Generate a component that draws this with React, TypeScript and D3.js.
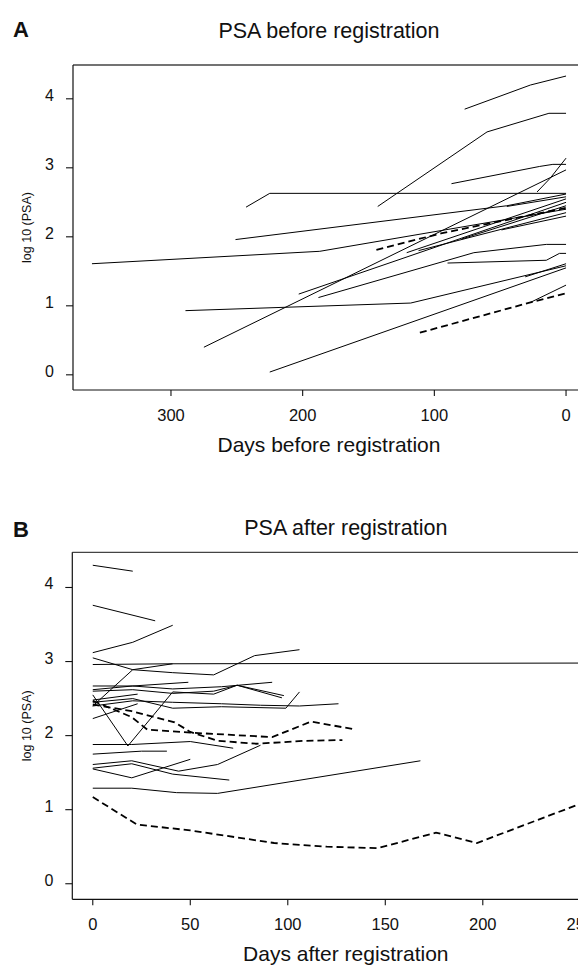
import React from "react"
import * as d3 from "d3"

type Pt = [number, number]

// Panel A: days before registration vs log10(PSA)
const beforeSolid: Pt[][] = [
  [[360, 1.61], [187, 1.79], [0, 2.40]],
  [[243, 2.43], [225, 2.63], [0, 2.63]],
  [[251, 1.96], [45, 2.45], [0, 2.62]],
  [[275, 0.40], [0, 2.97]],
  [[188, 1.12], [70, 1.77], [15, 1.89], [0, 1.89]],
  [[203, 1.17], [0, 2.50]],
  [[289, 0.93], [118, 1.04], [0, 1.58]],
  [[225, 0.04], [0, 1.55]],
  [[31, 1.42], [0, 1.61]],
  [[27, 1.05], [0, 1.30]],
  [[77, 3.85], [27, 4.20], [0, 4.33]],
  [[143, 2.44], [60, 3.52], [13, 3.79], [0, 3.79]],
  [[87, 2.77], [20, 3.02], [10, 3.05], [0, 3.05]],
  [[22, 2.65], [12, 2.85], [0, 3.14]],
  [[90, 1.62], [15, 1.66], [5, 1.76], [0, 1.76]],
  [[121, 1.77], [0, 2.55]],
  [[112, 1.80], [0, 2.35]],
  [[79, 1.97], [0, 2.45]],
  [[49, 2.10], [0, 2.30]],
  [[45, 2.44], [0, 2.58]],
]
const beforeDashed: Pt[][] = [
  [[111, 0.61], [27, 1.05], [0, 1.18]],
  [[144, 1.81], [95, 2.05], [0, 2.42]],
]

// Panel B: days after registration vs log10(PSA)
const afterSolid: Pt[][] = [
  [[0, 4.30], [20.5, 4.22]],
  [[0, 3.76], [32, 3.55]],
  [[0, 3.12], [20.5, 3.26], [41, 3.49]],
  [[0, 3.05], [20.5, 2.89], [41, 2.85], [62, 2.82], [83, 3.08], [106, 3.16]],
  [[0, 2.96], [41, 2.97]],
  [[0, 2.40], [20.5, 2.89], [41, 2.97], [262, 2.98]],
  [[0, 2.67], [20.5, 2.67], [49, 2.72]],
  [[0, 2.62], [20.5, 2.67], [41, 2.63], [66, 2.66], [92, 2.72]],
  [[0, 2.60], [20.5, 2.62], [41, 2.57], [62, 2.60], [74, 2.68], [98, 2.54]],
  [[0, 2.55], [18, 1.86], [41, 2.59], [62, 2.56], [74, 2.68], [97, 2.51]],
  [[0, 2.48], [23, 2.56]],
  [[0, 2.45], [20.5, 2.50], [41, 2.37], [66, 2.39], [99, 2.37], [106, 2.59]],
  [[0, 2.40], [20.5, 2.47], [41, 2.45], [66, 2.43], [86, 2.41], [106, 2.40], [126, 2.43]],
  [[0, 2.23], [23, 2.43]],
  [[0, 1.88], [20, 1.88], [50, 1.92], [72, 1.83]],
  [[0, 1.75], [25, 1.79], [38, 1.79]],
  [[0, 1.61], [20, 1.66], [44, 1.52], [64, 1.61], [86, 1.87]],
  [[0, 1.55], [20, 1.43], [50, 1.68]],
  [[0, 1.56], [20, 1.62], [41, 1.48], [70, 1.40]],
  [[0, 1.29], [20, 1.29], [43, 1.23], [64, 1.22], [168, 1.66]],
]
const afterDashed: Pt[][] = [
  [[0, 2.47], [20, 2.25], [28, 2.08], [50, 2.04], [92, 1.98], [112, 2.19], [133, 2.09]],
  [[0, 2.42], [20, 2.33], [42, 2.18], [50, 2.05], [64, 1.93], [84, 1.89], [109, 1.93], [128, 1.94]],
  [[0, 1.17], [22.6, 0.80], [50, 0.72], [93, 0.55], [120, 0.50], [146, 0.48], [176, 0.69], [197, 0.55], [262, 1.20]],
]

const beforeTicks = [300, 200, 100, 0]
const afterTicks = [0, 50, 100, 150, 200, 250]
const psaTicks = [0, 1, 2, 3, 4]

const FONT = "'Liberation Sans', Arial, Helvetica, sans-serif"

type PanelProps = {
  letter: string
  title: string
  xLabel: string
  xDomain: [number, number]
  xRange: [number, number]
  yDomain: [number, number]
  yRange: [number, number]
  xTicks: number[]
  solid: Pt[][]
  dashed: Pt[][]
  letterY: number
  titleY: number
}

function Panel(p: PanelProps) {
  const x = d3.scaleLinear().domain(p.xDomain).range(p.xRange)
  const y = d3.scaleLinear().domain(p.yDomain).range(p.yRange)
  const line = d3
    .line<Pt>()
    .x((d) => x(d[0]))
    .y((d) => y(d[1]))
  const [left, right] = p.xRange
  const [bottom, top] = p.yRange
  const cx = (left + right) / 2
  const cy = (top + bottom) / 2

  return (
    <g fontFamily={FONT} fill="#111">
      <text x={13} y={p.letterY} fontSize={22} fontWeight="bold">
        {p.letter}
      </text>
      <text x={cx} y={p.titleY} fontSize={21.5} textAnchor="middle">
        {p.title}
      </text>

      {/* box */}
      <line x1={left} x2={right} y1={top} y2={top} stroke="#444" strokeWidth={1.3} />
      <line x1={left} x2={right} y1={bottom} y2={bottom} stroke="#111" strokeWidth={1.2} />
      <line x1={left} x2={left} y1={top} y2={bottom} stroke="#111" strokeWidth={1.2} />

      {/* x axis */}
      {p.xTicks.map((t) => (
        <g key={"x" + t}>
          <line x1={x(t)} x2={x(t)} y1={bottom} y2={bottom + 6} stroke="#111" strokeWidth={1.1} />
          <text x={x(t)} y={bottom + 31} fontSize={16.5} textAnchor="middle">
            {t}
          </text>
        </g>
      ))}
      <text x={cx} y={bottom + 62} fontSize={21} textAnchor="middle">
        {p.xLabel}
      </text>

      {/* y axis */}
      {psaTicks.map((t) => (
        <g key={"y" + t}>
          <line x1={left - 7} x2={left} y1={y(t)} y2={y(t)} stroke="#111" strokeWidth={1.1} />
          <text x={left - 19} y={y(t) + 2} fontSize={16} textAnchor="end">
            {t}
          </text>
        </g>
      ))}
      <text
        transform={`translate(31,${cy}) rotate(-90)`}
        fontSize={12.5}
        textAnchor="middle"
      >
        log 10 (PSA)
      </text>

      {p.solid.map((s, i) => (
        <path key={"s" + i} d={line(s) ?? ""} fill="none" stroke="#000" strokeWidth={1} />
      ))}
      {p.dashed.map((s, i) => (
        <path
          key={"d" + i}
          d={line(s) ?? ""}
          fill="none"
          stroke="#000"
          strokeWidth={1.8}
          strokeDasharray="7,4"
        />
      ))}
    </g>
  )
}

export default function App() {
  return (
    <svg
      width={578}
      height={966}
      style={{ position: "absolute", left: 0, top: 0, background: "#fff" }}
    >
      <rect width={578} height={966} fill="#fff" />
      <Panel
        letter="A"
        title="PSA before registration"
        xLabel="Days before registration"
        xDomain={[374.4, -14.4]}
        xRange={[73, 585]}
        yDomain={[-0.22, 4.49]}
        yRange={[390, 65]}
        xTicks={beforeTicks}
        solid={beforeSolid}
        dashed={beforeDashed}
        letterY={37}
        titleY={38}
      />
      <Panel
        letter="B"
        title="PSA after registration"
        xLabel="Days after registration"
        xDomain={[-10.5, 270]}
        xRange={[72.3, 619.3]}
        yDomain={[-0.21, 4.475]}
        yRange={[899.3, 552.3]}
        xTicks={afterTicks}
        solid={afterSolid}
        dashed={afterDashed}
        letterY={537}
        titleY={535}
      />
    </svg>
  )
}
